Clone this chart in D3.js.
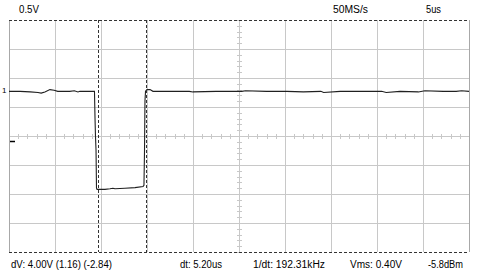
<!DOCTYPE html>
<html><head><meta charset="utf-8">
<script src="https://cdn.jsdelivr.net/npm/d3@7"></script>
<style>
html,body{margin:0;padding:0;background:#fff;}
svg{display:block;}
text{font-family:"Liberation Sans",Arial,sans-serif;fill:#000;}
</style></head>
<body>
<svg id="c" width="480" height="275"></svg>
<script>
// ---- data ----
const timeDivs = 10, voltDivs = 8;
const timeRangeUs = [0, 50];          // 5 us/div
const voltRange = [-2, 2];            // 0.5 V/div
const traceTimeUs = [0,1.2,2.3,3.15,3.5,3.9,4.45,4.9,5.3,6.6,7.1,7.5,7.7,8.6,9.13,9.29,9.35,9.40,9.46,9.51,
  9.57,10.43,10.98,11.3,11.52,12.6,13.7,14.57,14.67,14.73,14.78,14.84,15.0,15.33,15.65,
  17.5,19.6,20.0,22.5,25.3,25.7,28.0,30.2,32.0,33.9,34.2,36.0,38.0,40.5,41.0,42.5,44.5,45.2,47.2,48.6,49.2,50];
const traceVolts = [0.77,0.77,0.76,0.75,0.74,0.76,0.80,0.79,0.77,0.77,0.78,0.76,0.77,0.77,0.77,0.77,0.30,0.0,-0.25,-0.90,
  -0.92,-0.92,-0.91,-0.90,-0.91,-0.90,-0.89,-0.87,-0.85,-0.25,0.61,0.77,0.80,0.80,0.77,
  0.77,0.77,0.76,0.77,0.77,0.78,0.77,0.77,0.76,0.77,0.75,0.77,0.77,0.77,0.75,0.77,0.76,0.78,0.77,0.77,0.78,0.77];
const cursorTimesUs = [9.67, 14.89];
const cursorVolts = [2, -2];
const groundVolts = -0.09;
const channelLabel = "1";
const channelLabelVolts = 0.79;
const topLabels = ["0.5V", "50MS/s", "5us"];
const bottomLabels = ["dV: 4.00V  (1.16) (-2.84)", "dt: 5.20us", "1/dt: 192.31kHz", "Vms: 0.40V", "-5.8dBm"];

// ---- layout ----
const svg = d3.select("#c");
const x = d3.scaleLinear().domain(timeRangeUs).range([9, 469]);
const y = d3.scaleLinear().domain(voltRange).range([252, 20]);
const px = v => Math.round(v) + 0.5;

const gridCol = "#c8c8c8";
const g = svg.append("g");

// vertical grid lines
const xTicks = d3.range(1, timeDivs).map(i => timeRangeUs[0] + i * (timeRangeUs[1]-timeRangeUs[0]) / timeDivs);
g.selectAll("line.vx").data(xTicks).join("line")
  .attr("x1", d => px(x(d))).attr("x2", d => px(x(d)))
  .attr("y1", y(voltRange[1])).attr("y2", y(voltRange[0]))
  .attr("stroke", gridCol);
// horizontal grid lines
const yTicks = d3.range(1, voltDivs).map(i => voltRange[0] + i * (voltRange[1]-voltRange[0]) / voltDivs);
g.selectAll("line.hy").data(yTicks).join("line")
  .attr("y1", d => px(y(d))).attr("y2", d => px(y(d)))
  .attr("x1", x(timeRangeUs[0])).attr("x2", x(timeRangeUs[1]))
  .attr("stroke", gridCol);

// minor ticks on center axes
const xMinor = d3.range(0, timeDivs*5 + 1).map(i => timeRangeUs[0] + i * (timeRangeUs[1]-timeRangeUs[0]) / (timeDivs*5));
g.selectAll("line.mx").data(xMinor).join("line")
  .attr("x1", d => px(x(d))).attr("x2", d => px(x(d)))
  .attr("y1", px(y(0)) - 2.5).attr("y2", px(y(0)) + 2.5)
  .attr("stroke", gridCol);
const yMinor = d3.range(0, voltDivs*5 + 1).map(i => voltRange[0] + i * (voltRange[1]-voltRange[0]) / (voltDivs*5));
g.selectAll("line.my").data(yMinor).join("line")
  .attr("y1", d => px(y(d))).attr("y2", d => px(y(d)))
  .attr("x1", px(x(25)) - 2.5).attr("x2", px(x(25)) + 2.5)
  .attr("stroke", gridCol);

// left/right borders
g.selectAll("line.b").data(timeRangeUs).join("line")
  .attr("x1", d => px(x(d))).attr("x2", d => px(x(d)))
  .attr("y1", y(voltRange[1])).attr("y2", y(voltRange[0]))
  .attr("stroke", "#a8a8a8");

// trace
const pts = traceTimeUs.map((t, i) => [t, traceVolts[i]]);
svg.append("path")
  .attr("d", d3.line().x(d => x(d[0])).y(d => y(d[1]))(pts))
  .attr("fill", "none").attr("stroke", "#202020").attr("stroke-width", 1.1);

// cursors
const cur = svg.append("g").attr("stroke", "#333").attr("stroke-dasharray", "3,2");
cur.selectAll("line.ct").data(cursorTimesUs).join("line")
  .attr("x1", d => px(x(d))).attr("x2", d => px(x(d)))
  .attr("y1", y(voltRange[1])).attr("y2", y(voltRange[0]));
cur.selectAll("line.cv").data(cursorVolts).join("line")
  .attr("y1", d => px(y(d))).attr("y2", d => px(y(d)))
  .attr("x1", x(timeRangeUs[0])).attr("x2", x(timeRangeUs[1]));

// ground marker
svg.append("line").attr("x1", 10).attr("x2", 15)
  .attr("y1", px(y(groundVolts))).attr("y2", px(y(groundVolts)))
  .attr("stroke", "#000").attr("stroke-width", 1.5);
svg.append("text").attr("x", 2).attr("y", y(channelLabelVolts) + 3)
  .attr("font-size", 8).text(channelLabel);

// labels
const topPos = [[19, 20], [333, 35], [426, 15]];
svg.selectAll("text.top").data(topLabels).join("text")
  .attr("x", (d, i) => topPos[i][0]).attr("y", 13)
  .attr("font-size", 10)
  .attr("textLength", (d, i) => topPos[i][1]).attr("lengthAdjust", "spacingAndGlyphs")
  .text(d => d);
const botPos = [[11, 101], [180, 42], [253, 72], [350, 52], [428, 35]];
svg.selectAll("text.bot").data(bottomLabels).join("text")
  .attr("x", (d, i) => botPos[i][0]).attr("y", 268)
  .attr("font-size", 10)
  .attr("textLength", (d, i) => botPos[i][1]).attr("lengthAdjust", "spacingAndGlyphs")
  .text(d => d);
</script>
</body></html>
